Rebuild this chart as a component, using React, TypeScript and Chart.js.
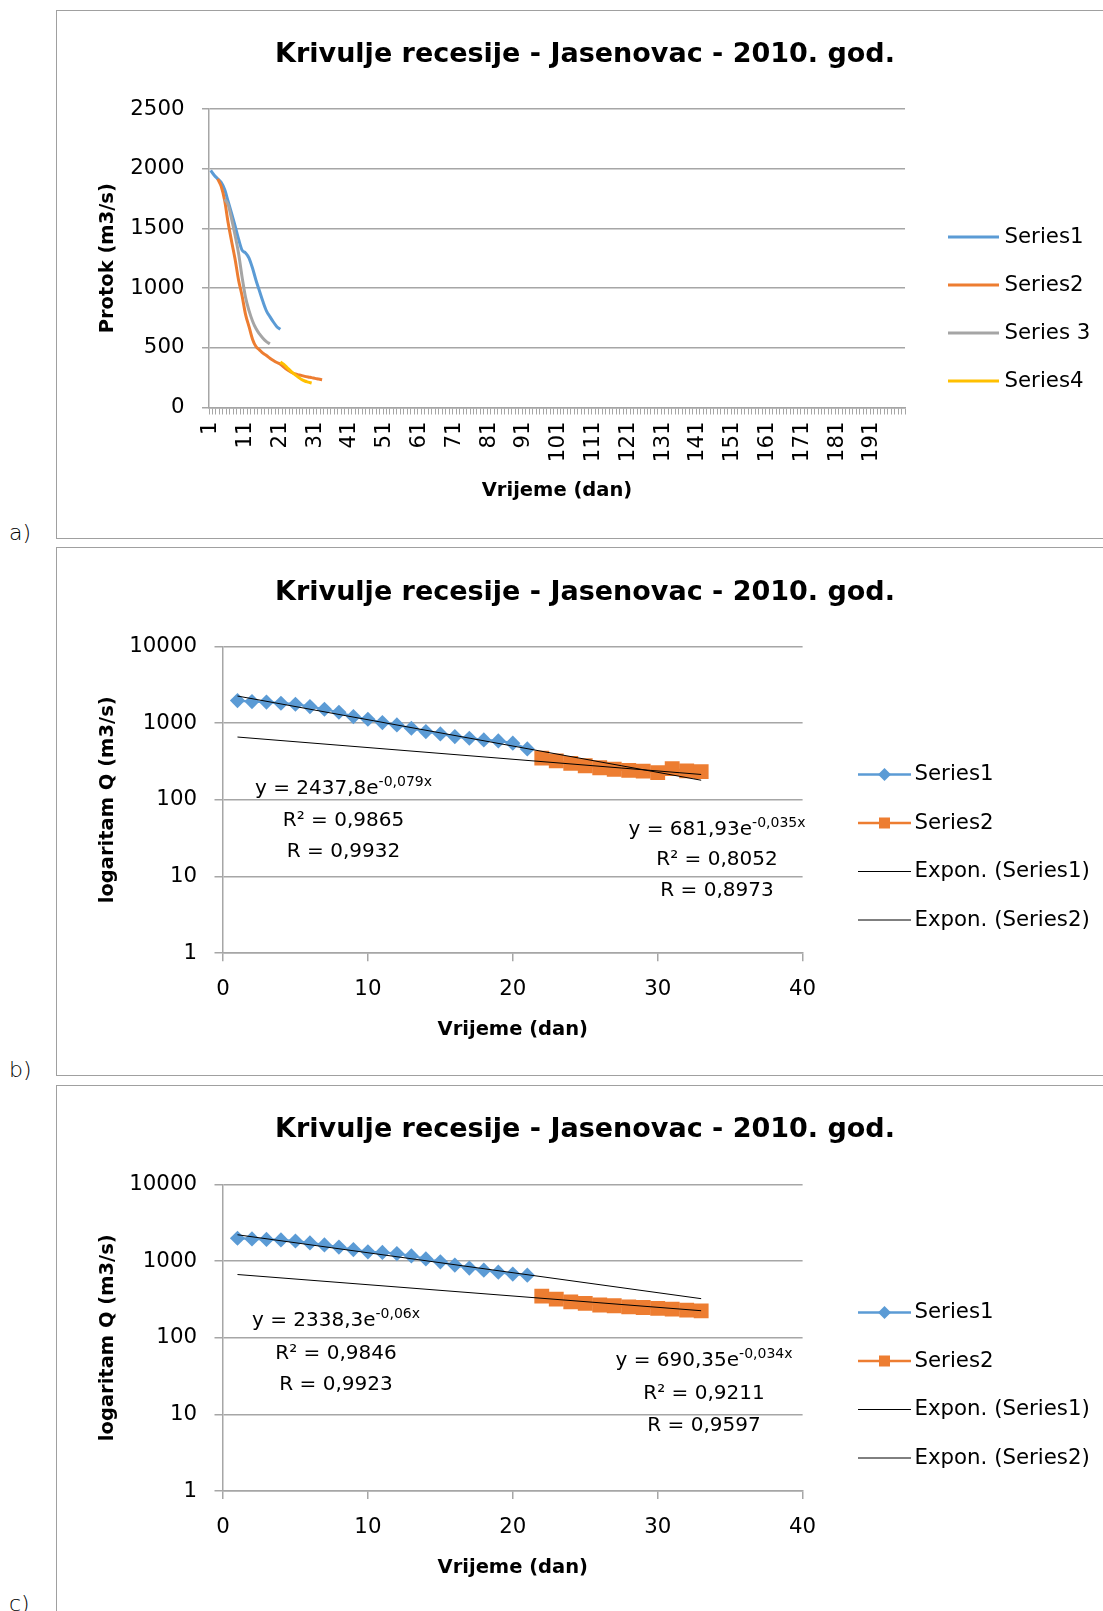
import React, { useEffect, useRef } from 'react';
import { Chart, registerables } from 'chart.js';

Chart.register(...registerables);

const FONT = "'DejaVu Sans', Verdana, sans-serif";
const CHART_TITLE = 'Krivulje recesije - Jasenovac - 2010. god.';
const BLUE = '#5B9BD5';
const ORANGE = '#ED7D31';
const GRAY = '#A5A5A5';
const YELLOW = '#FFC000';
const GRID = '#A6A6A6';
const TICK_SIZE = 21.3;

// ---------- chart a (linear flow axis, 200 day categories) ----------
const daysA: string[] = [];
for (let d = 1; d <= 200; d++) daysA.push(String(d));
const flowTicksA = [0, 500, 1000, 1500, 2000, 2500];

const series1Start = 1;
const series1Flow = [1985, 1945, 1915, 1885, 1825, 1725, 1625, 1520, 1410, 1318, 1295, 1252, 1168, 1066, 976, 887, 810, 761, 716, 677, 655];
const series2StartA = 3;
const series2FlowA = [1914, 1852, 1733, 1547, 1391, 1241, 1066, 936, 780, 677, 572, 511, 483, 455, 436, 413, 394, 377, 363, 338, 316, 297, 283, 275, 269, 261, 255, 250, 244, 239, 233];
const series3StartA = 5;
const series3FlowA = [1744, 1697, 1577, 1441, 1289, 1094, 922, 811, 725, 661, 616, 580, 552, 533];
const series4StartA = 21;
const series4FlowA = [380, 361, 333, 305, 280, 258, 236, 222, 213, 205];
const legendA = ['Series1', 'Series2', 'Series 3', 'Series4'];

// ---------- chart b (log axis) ----------
const logTicks = [1, 10, 100, 1000, 10000];
const series1FlowB = [1967, 1909, 1880, 1816, 1762, 1643, 1516, 1386, 1217, 1123, 1016, 947, 857, 775, 723, 667, 635, 604, 586, 547, 461];
const series2StartB = 22;
const series2FlowB = [349, 322, 298, 278, 262, 250, 242, 236, 226, 255, 238, 233];
const trendDays = [1, 33];
const trend1FlowB = [2253, 180];
const trend2FlowB = [658, 214];
const eq1B = { main: 'y = 2437,8e', sup: '-0,079x', r2: 'R² = 0,9865', r: 'R = 0,9932' };
const eq2B = { main: 'y = 681,93e', sup: '-0,035x', r2: 'R² = 0,8052', r: 'R = 0,8973' };

// ---------- chart c (log axis) ----------
const series2StartC = 22;
const series2FlowC = [349, 319, 294, 280, 267, 261, 253, 248, 241, 236, 229, 224];
const trend1FlowC = [2202, 323];
const trend2FlowC = [667, 225];
const eq1C = { main: 'y = 2338,3e', sup: '-0,06x', r2: 'R² = 0,9846', r: 'R = 0,9923' };
const eq2C = { main: 'y = 690,35e', sup: '-0,034x', r2: 'R² = 0,9211', r: 'R = 0,9597' };
const legendLog = ['Series1', 'Series2', 'Expon. (Series1)', 'Expon. (Series2)'];

const CW = 1056;
const CH = 528;

function padCategories(start: number, vals: number[]) {
  return daysA.map((_, i) => {
    const k = i + 1 - start;
    return k >= 0 && k < vals.length ? vals[k] : null;
  });
}
const pts = (start: number, vals: number[]) => vals.map((v, i) => ({ x: start + i, y: v }));
const pairPts = (xs: number[], ys: number[]) => xs.map((x, i) => ({ x, y: ys[i] }));

function makeOverlay(cfg: any) {
  return {
    id: 'overlay',
    afterDraw(chart: any) {
      const ctx = chart.ctx;
      ctx.save();
      const lg = cfg.legend;
      lg.items.forEach((it: any, i: number) => {
        const y = lg.y0 + i * lg.dy;
        ctx.strokeStyle = it.color;
        ctx.lineWidth = it.width;
        ctx.beginPath();
        ctx.moveTo(lg.x1, y);
        ctx.lineTo(lg.x2, y);
        ctx.stroke();
        const mx = (lg.x1 + lg.x2) / 2;
        ctx.fillStyle = it.color;
        if (it.marker === 'diamond') {
          const r = 6.5;
          ctx.beginPath();
          ctx.moveTo(mx, y - r);
          ctx.lineTo(mx + r, y);
          ctx.lineTo(mx, y + r);
          ctx.lineTo(mx - r, y);
          ctx.closePath();
          ctx.fill();
        } else if (it.marker === 'square') {
          ctx.fillRect(mx - 5.5, y - 5.5, 11, 11);
        }
        ctx.fillStyle = '#000';
        ctx.font = `${TICK_SIZE}px ${FONT}`;
        ctx.textAlign = 'left';
        ctx.textBaseline = 'middle';
        ctx.fillText(it.text, lg.tx, y);
      });
      (cfg.equations || []).forEach((eq: any) => {
        ctx.fillStyle = '#000';
        ctx.textBaseline = 'middle';
        ctx.font = `20px ${FONT}`;
        const wMain = ctx.measureText(eq.text.main).width;
        ctx.font = `14px ${FONT}`;
        const wSup = ctx.measureText(eq.text.sup).width;
        const x0 = eq.cx - (wMain + wSup) / 2;
        ctx.textAlign = 'left';
        ctx.font = `20px ${FONT}`;
        ctx.fillText(eq.text.main, x0, eq.y[0]);
        ctx.font = `14px ${FONT}`;
        ctx.fillText(eq.text.sup, x0 + wMain, eq.y[0] - 7);
        ctx.textAlign = 'center';
        ctx.font = `20px ${FONT}`;
        ctx.fillText(eq.text.r2, eq.cx, eq.y[1]);
        ctx.fillText(eq.text.r, eq.cx, eq.y[2]);
      });
      ctx.restore();
    },
  };
}

function padAxis(width: number) {
  return {
    type: 'linear',
    position: 'right',
    display: true,
    grid: { display: false },
    ticks: { display: false },
    border: { display: false },
    afterFit: (s: any) => {
      s.width = width;
    },
  };
}

function titleOpts(center: number, top: number) {
  const lh = 27 * 1.2;
  return {
    display: true,
    text: CHART_TITLE,
    color: '#000',
    font: { family: FONT, size: 27, weight: 'bold', lineHeight: 1.2 },
    padding: { top: center - lh / 2, bottom: top - center - lh / 2 },
  };
}

function configA() {
  return {
    type: 'line',
    data: {
      labels: daysA,
      datasets: [
        { label: legendA[0], data: padCategories(series1Start, series1Flow), borderColor: BLUE, order: 4 },
        { label: legendA[1], data: padCategories(series2StartA, series2FlowA), borderColor: ORANGE, order: 3 },
        { label: legendA[2], data: padCategories(series3StartA, series3FlowA), borderColor: GRAY, order: 2 },
        { label: legendA[3], data: padCategories(series4StartA, series4FlowA), borderColor: YELLOW, order: 1 },
      ].map((d) => ({ ...d, borderWidth: 3, pointRadius: 0, cubicInterpolationMode: 'monotone', fill: false })),
    },
    options: {
      responsive: false,
      animation: false,
      layout: { padding: 0 },
      plugins: {
        legend: { display: false },
        tooltip: { enabled: false },
        title: titleOpts(44, 98),
      },
      scales: {
        x: {
          type: 'category',
          offset: true,
          grid: { offset: true, drawOnChartArea: false, color: GRID, tickLength: 7, lineWidth: 1 },
          border: { color: GRID, width: 1.5 },
          ticks: {
            autoSkip: false,
            minRotation: 90,
            maxRotation: 90,
            padding: 7,
            color: '#000',
            font: { family: FONT, size: TICK_SIZE },
            callback: (_v: any, i: number) => (i % 10 === 0 ? daysA[i] : ''),
          },
          title: {
            display: true,
            text: 'Vrijeme (dan)',
            color: '#000',
            font: { family: FONT, size: 19.5, weight: 'bold', lineHeight: 1.2 },
            padding: { top: 0, bottom: 35.3 },
          },
          afterFit: (s: any) => {
            s.height = 527 - 396.5;
          },
        },
        y: {
          type: 'linear',
          min: 0,
          max: 2500,
          afterBuildTicks: (s: any) => {
            s.ticks = flowTicksA.map((v) => ({ value: v }));
          },
          grid: { color: GRID, tickLength: 7, lineWidth: 1.5 },
          border: { color: GRID, width: 1.5 },
          ticks: { padding: 17.5, color: '#000', font: { family: FONT, size: TICK_SIZE }, callback: (v: any) => String(v) },
          title: {
            display: true,
            text: 'Protok (m3/s)',
            color: '#000',
            font: { family: FONT, size: 19.5, weight: 'bold', lineHeight: 1.2 },
            padding: { top: 51 - 11.7, bottom: 0 },
          },
          afterFit: (s: any) => {
            s.width = 152;
          },
        },
        pad: padAxis(CW - 848),
      },
    },
    plugins: [
      makeOverlay({
        legend: {
          x1: 891,
          x2: 942,
          tx: 947.5,
          y0: 226,
          dy: 48,
          items: [
            { text: legendA[0], color: BLUE, width: 3 },
            { text: legendA[1], color: ORANGE, width: 3 },
            { text: legendA[2], color: GRAY, width: 3 },
            { text: legendA[3], color: YELLOW, width: 3 },
          ],
        },
        equations: [],
      }),
    ],
  };
}

function configLog(
  s1: number[],
  s2Start: number,
  s2: number[],
  t1: number[],
  t2: number[],
  eqs: any[],
  titleCenter: number,
  top: number,
  bottom: number
) {
  return {
    type: 'scatter',
    data: {
      datasets: [
        { label: legendLog[0], data: pts(series1Start, s1), showLine: true, borderColor: BLUE, backgroundColor: BLUE, borderWidth: 2.25, pointStyle: 'rectRot', pointRadius: 7.6, pointBorderWidth: 0, order: 2 },
        { label: legendLog[1], data: pts(s2Start, s2), showLine: true, borderColor: ORANGE, backgroundColor: ORANGE, borderWidth: 2.25, pointStyle: 'rect', pointRadius: 10.5, pointBorderWidth: 0, order: 2 },
        { label: legendLog[2], data: pairPts(trendDays, t1), showLine: true, borderColor: '#000', backgroundColor: '#000', borderWidth: 1, pointRadius: 0, order: 1 },
        { label: legendLog[3], data: pairPts(trendDays, t2), showLine: true, borderColor: '#000', backgroundColor: '#000', borderWidth: 1, pointRadius: 0, order: 1 },
      ],
    },
    options: {
      responsive: false,
      animation: false,
      layout: { padding: 0 },
      plugins: {
        legend: { display: false },
        tooltip: { enabled: false },
        title: titleOpts(titleCenter, top),
      },
      scales: {
        x: {
          type: 'linear',
          min: 0,
          max: 40,
          grid: { drawOnChartArea: false, color: GRID, tickLength: 8, lineWidth: 1.5 },
          border: { color: GRID, width: 1.5 },
          ticks: { stepSize: 10, padding: 15.5, color: '#000', font: { family: FONT, size: TICK_SIZE } },
          title: {
            display: true,
            text: 'Vrijeme (dan)',
            color: '#000',
            font: { family: FONT, size: 19.5, weight: 'bold', lineHeight: 1.2 },
            padding: { top: 0, bottom: 34.3 },
          },
          afterFit: (s: any) => {
            s.height = CH - bottom;
          },
        },
        y: {
          type: 'logarithmic',
          min: 1,
          max: 10000,
          afterBuildTicks: (s: any) => {
            s.ticks = logTicks.map((v) => ({ value: v }));
          },
          grid: { color: GRID, tickLength: 8.5, lineWidth: 1.5 },
          border: { color: GRID, width: 1.5 },
          ticks: { padding: 17.5, color: '#000', font: { family: FONT, size: TICK_SIZE }, callback: (v: any) => String(v) },
          title: {
            display: true,
            text: 'logaritam Q (m3/s)',
            color: '#000',
            font: { family: FONT, size: 19.5, weight: 'bold', lineHeight: 1.2 },
            padding: { top: 50.6 - 11.7, bottom: 0 },
          },
          afterFit: (s: any) => {
            s.width = 166;
          },
        },
        pad: padAxis(CW - 745.6),
      },
    },
    plugins: [
      makeOverlay({
        legend: {
          x1: 801,
          x2: 854,
          tx: 857.5,
          y0: 226.5,
          dy: 48.5,
          items: [
            { text: legendLog[0], color: BLUE, width: 2.5, marker: 'diamond' },
            { text: legendLog[1], color: ORANGE, width: 2.5, marker: 'square' },
            { text: legendLog[2], color: '#000', width: 1 },
            { text: legendLog[3], color: '#000', width: 1 },
          ],
        },
        equations: eqs,
      }),
    ],
  };
}

function ChartBox({ top, height, makeConfig, label, labelY }: any) {
  const ref = useRef<HTMLCanvasElement>(null);
  useEffect(() => {
    const chart = new Chart(ref.current as HTMLCanvasElement, makeConfig() as any);
    return () => chart.destroy();
  }, []);
  return (
    <>
      <div
        style={{
          position: 'absolute',
          left: 56,
          top,
          width: 1058,
          height: CH + 1,
          border: '1px solid #A0A0A0',
          boxSizing: 'border-box',
        }}
      />
      <canvas
        ref={ref}
        width={CW}
        height={height}
        style={{ position: 'absolute', left: 57, top: top + 1, width: CW, height }}
      />
      <div
        style={{
          position: 'absolute',
          left: 9,
          top: labelY - 14,
          fontFamily: FONT,
          fontWeight: 200,
          fontSize: 22,
          lineHeight: '28px',
          color: '#000',
        }}
      >
        {label}
      </div>
    </>
  );
}

export default function App() {
  return (
    <div
      style={{
        position: 'absolute',
        left: 0,
        top: 0,
        width: 1103,
        height: 1611,
        overflow: 'hidden',
        background: '#fff',
      }}
    >
      <ChartBox top={10} height={527} makeConfig={configA} label="a)" labelY={533} />
      <ChartBox
        top={547}
        height={CH}
        label="b)"
        labelY={1070}
        makeConfig={() =>
          configLog(series1FlowB, series2StartB, series2FlowB, trend1FlowB, trend2FlowB, [
            { text: eq1B, cx: 286.5, y: [241, 272.5, 304] },
            { text: eq2B, cx: 660, y: [282, 312, 343] },
          ], 44.5, 98.4, 405.2)
        }
      />
      <ChartBox
        top={1085}
        height={CH}
        label="c)"
        labelY={1604}
        makeConfig={() =>
          configLog(series1Flow, series2StartC, series2FlowC, trend1FlowC, trend2FlowC, [
            { text: eq1C, cx: 279, y: [235, 268, 299] },
            { text: eq2C, cx: 647, y: [275, 308, 340] },
          ], 44, 98.4, 405)
        }
      />
    </div>
  );
}
